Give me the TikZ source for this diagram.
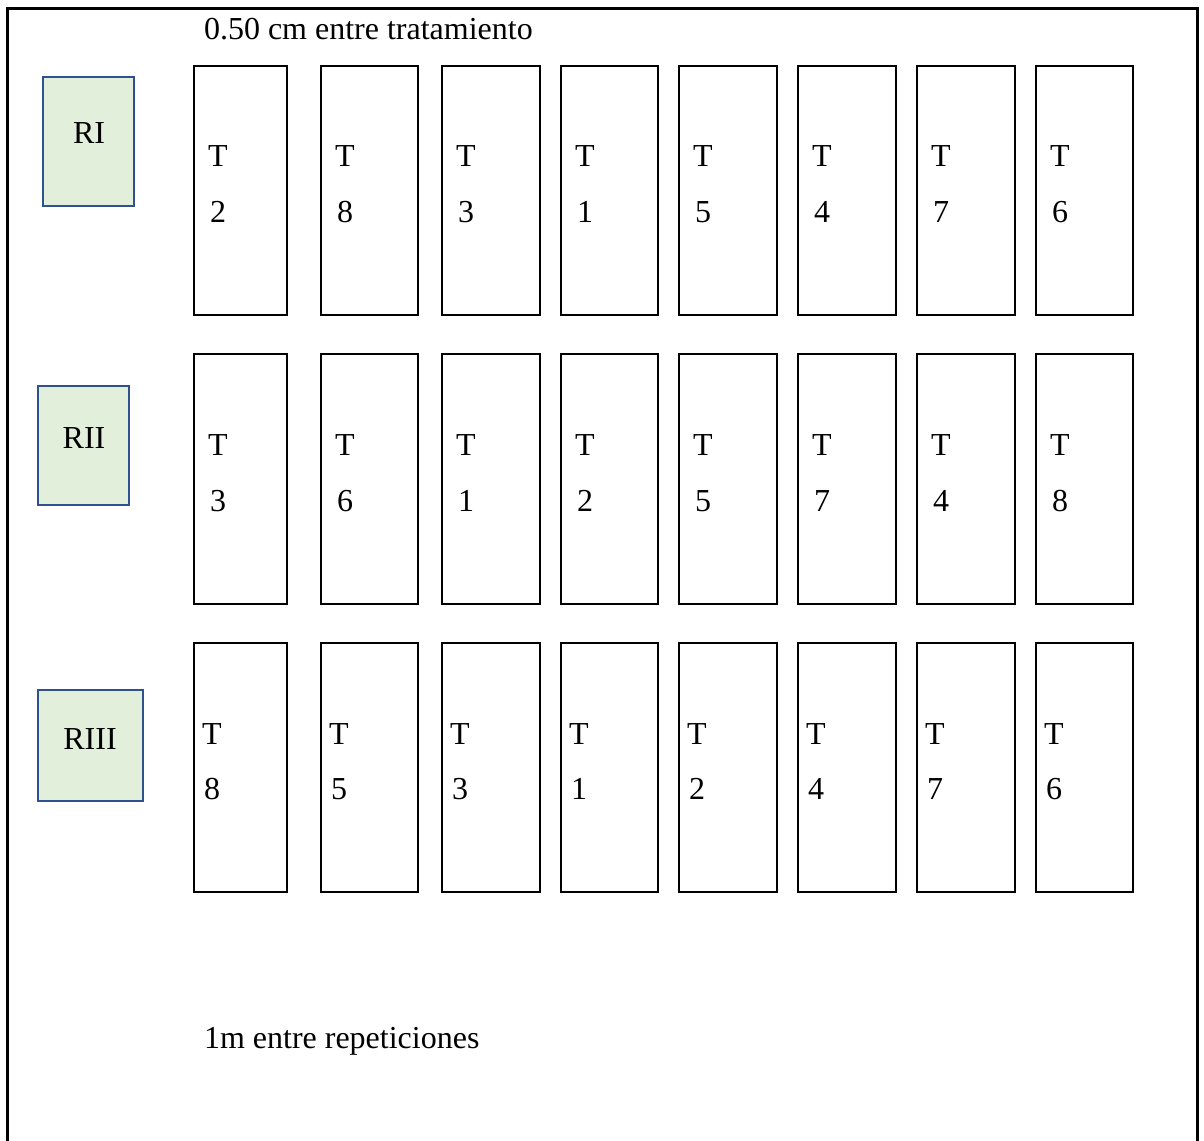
\documentclass[tikz,border=0pt]{standalone}
\usepackage{fontspec}
\setmainfont{Liberation Serif}
\definecolor{repfill}{RGB}{226,239,218}
\definecolor{repline}{RGB}{47,82,143}
\begin{document}
\begin{tikzpicture}[x=1pt,y=-1pt,
  every node/.style={font=\fontsize{32}{38}\selectfont},
  plotbox/.style={draw=black,line width=2.6pt,inner sep=0pt,outer sep=0pt,rectangle},
  repbox/.style={draw=repline,fill=repfill,line width=2.6pt,inner sep=0pt,outer sep=0pt,rectangle},
  lab/.style={inner sep=0pt,outer sep=0pt,anchor=base},
  txt/.style={inner sep=0pt,outer sep=0pt,anchor=base west},
  frame/.style={draw=black,line width=3pt}]
\useasboundingbox (0,0) rectangle (1204,1140);
% outer frame (open at bottom)
\coordinate (fbl) at (7,1142);
\coordinate (ftl) at (7,9);
\coordinate (ftr) at (1197,9);
\coordinate (fbr) at (1197,1142);
\draw[frame] (fbl) -- (ftl) -- (ftr) -- (fbr);
% titles
\node[txt] (top) at (204,40) {0.50 cm entre tratamiento};
\node[txt] (bottom) at (204,1048) {1m entre repeticiones};
% replication boxes
\node[repbox,minimum width=91pt,minimum height=129pt] (RI) at (88.5,141.5) {};
\node[lab] (RIt) at (89,143) {RI};
\node[repbox,minimum width=91pt,minimum height=119pt] (RII) at (83.5,445.5) {};
\node[lab] (RIIt) at (84,448) {RII};
\node[repbox,minimum width=105pt,minimum height=111pt] (RIII) at (90.5,745.5) {};
\node[lab] (RIIIt) at (90,749) {RIII};
% plots
\foreach \row/\top/\bot/\tb/\nb/\off/\labs in {
  1/66/315/166/222/24/{2,8,3,1,5,4,7,6},
  2/354/604/455/511/24/{3,6,1,2,5,7,4,8},
  3/643/892/744/799/18/{8,5,3,1,2,4,7,6}}{
  \foreach \i/\l/\r in {1/194/287,2/321/418,3/442/540,4/561/658,5/679/777,6/798/896,7/917/1015,8/1036/1133}{
    \pgfmathsetmacro{\w}{\r-\l}
    \pgfmathsetmacro{\h}{\bot-\top}
    \pgfmathsetmacro{\cx}{(\l+\r)/2}
    \pgfmathsetmacro{\cy}{(\top+\bot)/2}
    \pgfmathsetmacro{\tx}{\l+\off}
    \pgfmathtruncatemacro{\num}{{\labs}[\i-1]}
    \node[plotbox,minimum width=\w pt,minimum height=\h pt] (p\row-\i) at (\cx,\cy) {};
    \node[lab] (pt\row-\i) at (\tx,\tb) {T};
    \node[lab] (pn\row-\i) at (\tx,\nb) {\num};
  }
}
\end{tikzpicture}
\end{document}
